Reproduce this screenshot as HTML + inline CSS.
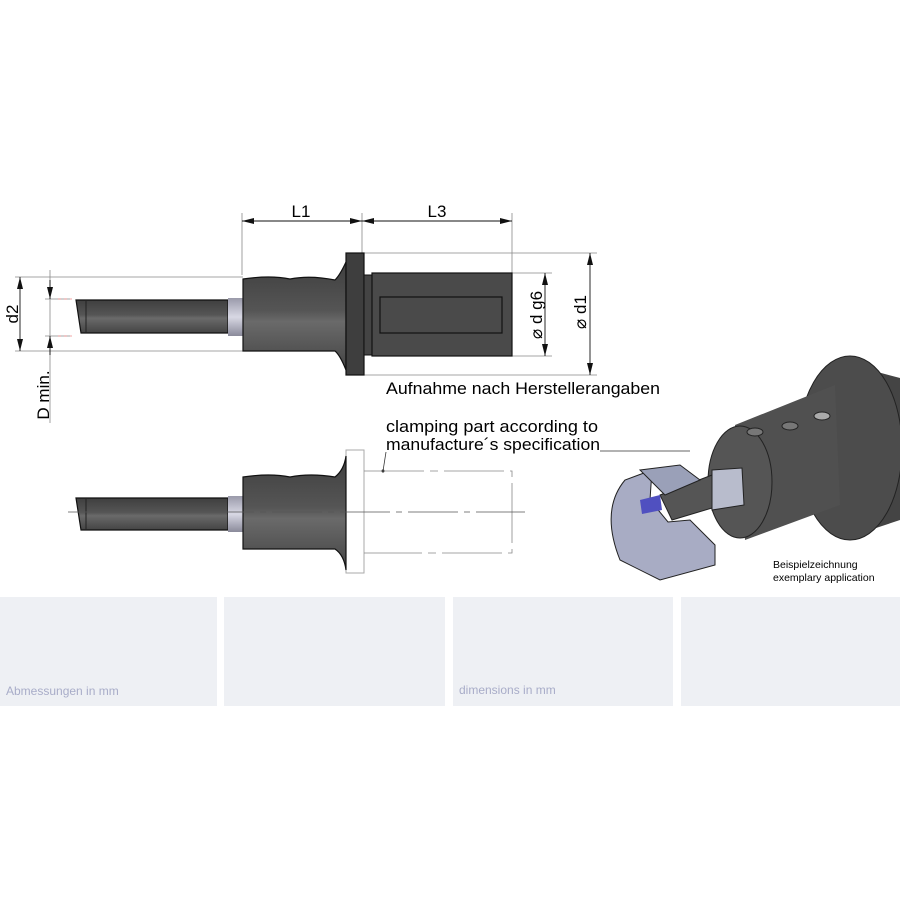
<!DOCTYPE html>
<html><head><meta charset="utf-8"><style>
html,body{margin:0;padding:0;background:#fff;width:900px;height:900px;overflow:hidden}
svg{display:block}
text{font-family:"Liberation Sans","DejaVu Sans",sans-serif}
</style></head><body>
<svg width="900" height="900" viewBox="0 0 900 900" xmlns="http://www.w3.org/2000/svg">
<defs>
<linearGradient id="body" x1="0" y1="0" x2="0" y2="1">
<stop offset="0" stop-color="#3f3f3f"/><stop offset="0.45" stop-color="#555"/><stop offset="0.55" stop-color="#6a6a6a"/><stop offset="1" stop-color="#444"/></linearGradient>
<linearGradient id="col" x1="0" y1="0" x2="0" y2="1">
<stop offset="0" stop-color="#9a9aaa"/><stop offset="0.5" stop-color="#d8d8e4"/><stop offset="1" stop-color="#8a8a9a"/></linearGradient>
<marker id="a" markerWidth="12" markerHeight="6" refX="12" refY="3" orient="auto" markerUnits="userSpaceOnUse"><path d="M0,0 L12,3 L0,6z" fill="#111"/></marker>
<marker id="b" markerWidth="12" markerHeight="6" refX="0" refY="3" orient="auto" markerUnits="userSpaceOnUse"><path d="M12,0 L0,3 L12,6z" fill="#111"/></marker>
</defs>

<g stroke="#888" stroke-width="0.8" fill="none">
<line x1="242" y1="213" x2="242" y2="275"/>
<line x1="362" y1="213" x2="362" y2="253"/>
<line x1="512" y1="213" x2="512" y2="273"/>
<line x1="364" y1="253" x2="597" y2="253"/>
<line x1="364" y1="375" x2="597" y2="375"/>
<line x1="512" y1="273" x2="552" y2="273"/>
<line x1="512" y1="356" x2="552" y2="356"/>
<line x1="15" y1="277" x2="243" y2="277"/>
<line x1="15" y1="351" x2="243" y2="351"/>
<line x1="45" y1="299" x2="70" y2="299"/>
<line x1="45" y1="336" x2="70" y2="336"/>
<line x1="50" y1="270" x2="50" y2="423"/>
</g>
<line x1="58" y1="299" x2="72" y2="299" stroke="#e88" stroke-width="0.8" stroke-dasharray="3,3"/>
<line x1="58" y1="336" x2="72" y2="336" stroke="#e88" stroke-width="0.8" stroke-dasharray="3,3"/>
<g stroke="#111" stroke-width="0.9">
<line x1="242" y1="221" x2="362" y2="221" marker-start="url(#b)" marker-end="url(#a)"/>
<line x1="362" y1="221" x2="512" y2="221" marker-start="url(#b)" marker-end="url(#a)"/>
<line x1="20" y1="277" x2="20" y2="351" marker-start="url(#b)" marker-end="url(#a)"/>
<line x1="50" y1="280" x2="50" y2="299" marker-end="url(#a)"/>
<line x1="50" y1="355" x2="50" y2="336" marker-end="url(#a)"/>
<line x1="545" y1="273" x2="545" y2="356" marker-start="url(#b)" marker-end="url(#a)"/>
<line x1="590" y1="253" x2="590" y2="375" marker-start="url(#b)" marker-end="url(#a)"/>
</g>
<text x="301" y="217" font-size="17" text-anchor="middle">L1</text>
<text x="437" y="217" font-size="17" text-anchor="middle">L3</text>
<text transform="translate(18,314) rotate(-90)" font-size="17" text-anchor="middle">d2</text>
<text transform="translate(49,395) rotate(-90)" font-size="17" text-anchor="middle">D min.</text>
<text transform="translate(542,315) rotate(-90)" font-size="17" text-anchor="middle">⌀ d g6</text>
<text transform="translate(586,312) rotate(-90)" font-size="17" text-anchor="middle">⌀ d1</text>

<path d="M76,300 L228,300 L228,333 L81,333 Z" fill="url(#body)" stroke="#111" stroke-width="1.2"/>
<line x1="86" y1="300" x2="86" y2="333" stroke="#222"/>
<rect x="228" y="298" width="15" height="38" fill="url(#col)"/>
<path d="M243,279 Q270,275 290,279 Q310,275 335,280 Q340,275 346,262 L346,370 Q340,355 335,351 L243,351 Z" fill="url(#body)" stroke="#111" stroke-width="1.2"/>
<rect x="346" y="253" width="18" height="122" fill="#3e3e3e" stroke="#111" stroke-width="1.2"/>
<rect x="364" y="275" width="10" height="80" fill="#444" stroke="#111"/>
<rect x="372" y="273" width="140" height="83" fill="#4a4a4a" stroke="#111" stroke-width="1.2"/>
<rect x="380" y="297" width="122" height="36" fill="#4a4a4a" stroke="#111" stroke-width="1.2"/>

<text x="386" y="394" font-size="17" textLength="274" lengthAdjust="spacingAndGlyphs">Aufnahme nach Herstellerangaben</text>
<text x="386" y="432" font-size="17" textLength="212" lengthAdjust="spacingAndGlyphs">clamping part according to</text>
<text x="386" y="450" font-size="17" textLength="214" lengthAdjust="spacingAndGlyphs">manufacture´s specification</text>
<line x1="600" y1="451" x2="690" y2="451" stroke="#666" stroke-width="1"/>
<line x1="386" y1="452" x2="383" y2="471" stroke="#333" stroke-width="0.8"/>
<circle cx="383" cy="471" r="1.5" fill="#111"/>

<rect x="346" y="450" width="18" height="123" fill="#fff" stroke="#aaa"/>
<g stroke="#888" stroke-width="0.8" fill="none">
<path d="M364,471 H512 V553 H364" stroke-dasharray="60,6,8,6"/>
</g>
<path d="M76,498 L228,498 L228,530 L81,530 Z" fill="url(#body)" stroke="#111" stroke-width="1.2"/>
<line x1="86" y1="498" x2="86" y2="530" stroke="#222"/>
<rect x="228" y="496" width="15" height="36" fill="url(#col)"/>
<path d="M243,477 Q270,473 290,477 Q310,473 335,477 Q344,470 346,456 L346,570 Q344,555 335,549 L243,549 Z" fill="url(#body)" stroke="#111" stroke-width="1.2"/>
<line x1="68" y1="512" x2="525" y2="512" stroke="#555" stroke-width="0.8" stroke-dasharray="50,6,6,6"/>

<!-- 3D illustration -->
<path d="M870,370 L900,378 L900,520 L870,530 Z" fill="#444"/>
<ellipse cx="850" cy="448" rx="52" ry="92" fill="#4c4c4c" stroke="#222"/>
<path d="M735,425 L835,385 L840,505 L745,540 Z" fill="#505050"/>
<ellipse cx="740" cy="482" rx="32" ry="56" fill="#555" stroke="#222"/>
<ellipse cx="755" cy="432" rx="8" ry="4" fill="#777" stroke="#222"/>
<ellipse cx="790" cy="426" rx="8" ry="4" fill="#777" stroke="#222"/>
<ellipse cx="822" cy="416" rx="8" ry="4" fill="#aaa" stroke="#222"/>
<path d="M712,470 L742,468 L744,505 L712,510 Z" fill="#b8bccc" stroke="#222"/>
<path d="M660,495 L712,475 L712,508 L672,520 Z" fill="#555" stroke="#222"/>
<path d="M652,470 L625,480 Q600,510 620,560 L660,580 L715,565 L715,545 L690,520 L668,522 L650,500 Z" fill="#a8acc4" stroke="#222"/>
<path d="M640,470 L680,465 L700,480 L665,495 Z" fill="#9aa0b8" stroke="#222"/>
<path d="M640,500 L660,495 L662,510 L642,514 Z" fill="#5050c0"/>
<text x="773" y="568" font-size="10.5">Beispielzeichnung</text>
<text x="773" y="581" font-size="10.5">exemplary application</text>

<rect x="0" y="597" width="217" height="109" fill="#eef0f4"/>
<rect x="224" y="597" width="221" height="109" fill="#eef0f4"/>
<rect x="453" y="597" width="220" height="109" fill="#eef0f4"/>
<rect x="681" y="597" width="219" height="109" fill="#eef0f4"/>
<text x="6" y="695" font-size="12" fill="#a8acc8">Abmessungen in mm</text>
<text x="459" y="694" font-size="12" fill="#a8acc8">dimensions in mm</text>
</svg>
</body></html>
